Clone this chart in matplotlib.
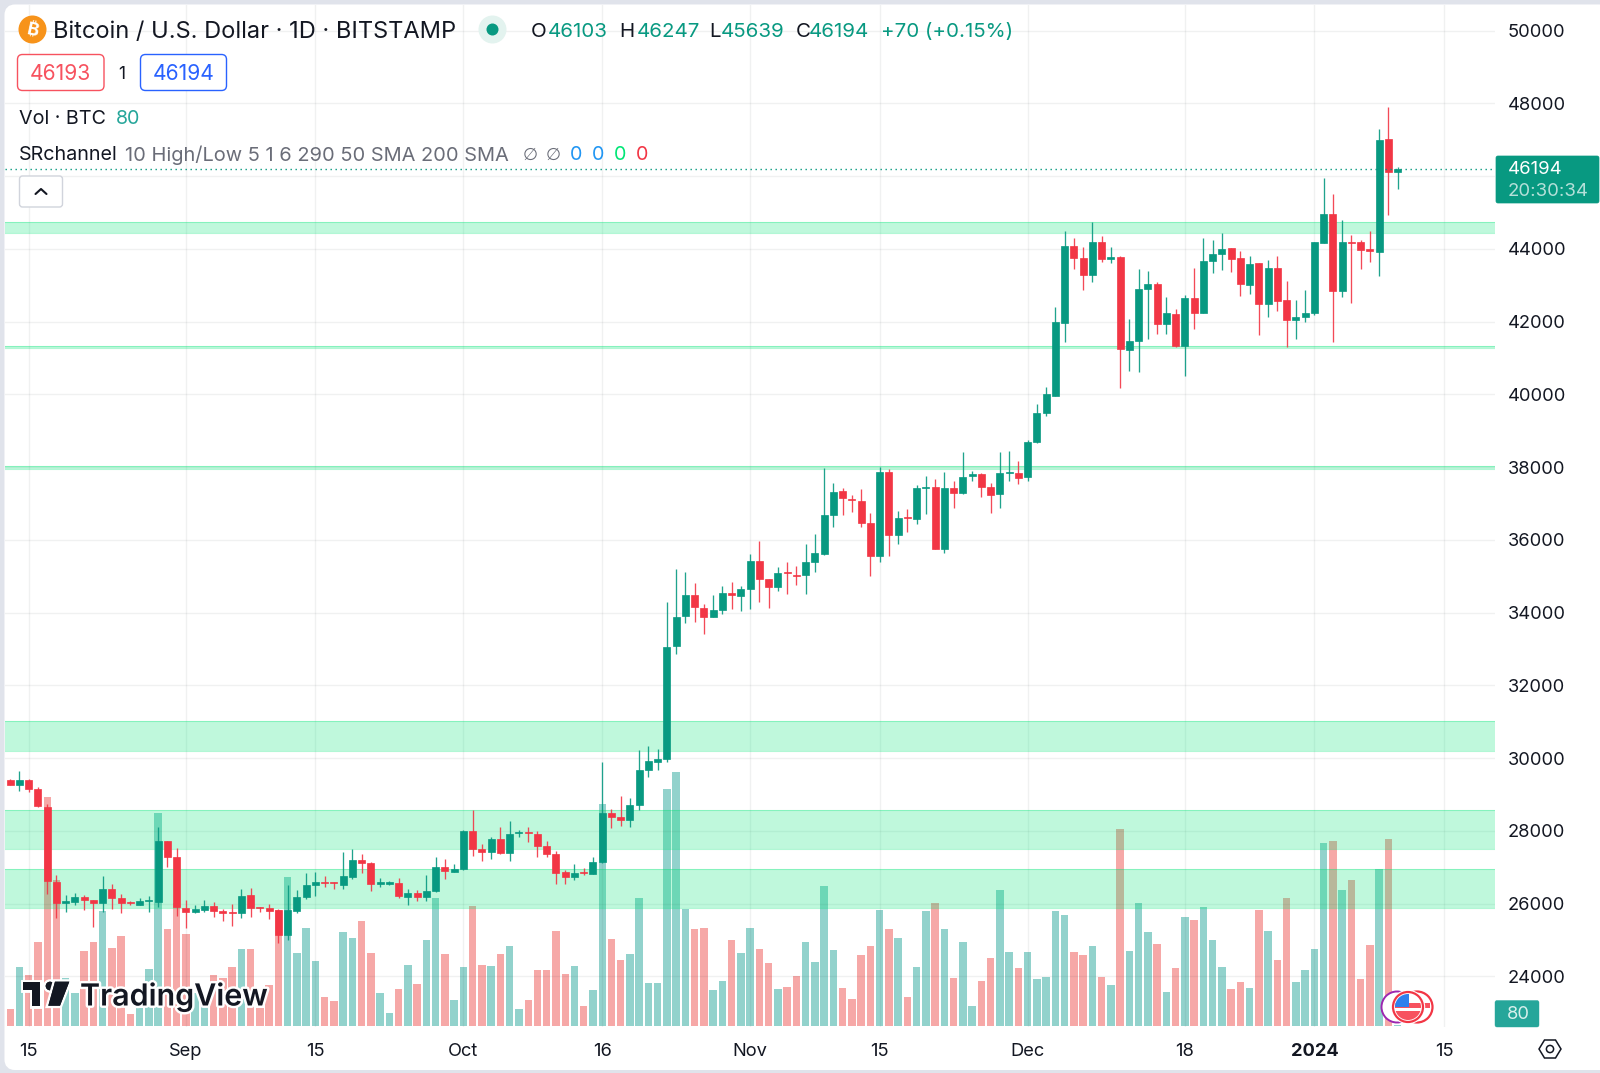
"""Bitcoin / U.S. Dollar daily candles with volume and SR channel zones."""
import matplotlib
matplotlib.use('Agg')
import matplotlib.patheffects as pe
import matplotlib.pyplot as plt
import numpy as np
import pandas as pd
from matplotlib.patches import Circle, FancyBboxPatch, Polygon, Rectangle

START_DATE = '2023-08-13'

OPEN = [29389, 29261, 29389, 29151, 28656, 26595, 26027, 26054, 26182, 26109,
        26027, 26412, 26155, 26045, 25972, 26073, 26054, 27713, 27282, 25889,
        25770, 25825, 25944, 25798, 25770, 25734, 26238, 25908, 25871, 25816,
        25138, 25807, 26192, 26522, 26604, 26586, 26512, 26741, 27199, 27108,
        26549, 26549, 26558, 26192, 26283, 26173, 26338, 27007, 26879, 26943,
        27987, 27502, 27419, 27768, 27383, 27942, 27978, 27923, 27584, 27374,
        26860, 26723, 26870, 26815, 27135, 28491, 28391, 28299, 28702, 29664,
        29893, 29967, 33091, 33916, 34484, 34126, 33888, 34071, 34530, 34465,
        34649, 35427, 34933, 34713, 35116, 35043, 35043, 35400, 35601, 36692,
        37333, 37113, 37077, 36453, 35555, 37864, 36142, 36637, 36573, 37415,
        37461, 35739, 37415, 37278, 37754, 37800, 37461, 37250, 37846, 37846,
        37718, 38695, 39478, 39964, 41970, 44078, 43757, 43290, 44197, 43711,
        43785, 41228, 41476, 42887, 43033, 41925, 42218, 41329, 42649, 42245,
        43674, 43858, 44014, 43739, 42997, 43601, 42484, 43464, 42594, 42044,
        42117, 42227, 44169, 44967, 42850, 44197, 44178, 43986, 43922, 47009,
        46103]
HIGH = [29435, 29646, 29435, 29197, 28730, 26787, 26238, 26283, 26238, 26109,
        26769, 26540, 26265, 26082, 26155, 26210, 28116, 27731, 27520, 26100,
        25963, 26100, 26045, 25844, 25990, 26393, 26421, 25917, 25990, 25862,
        26522, 26375, 26833, 26860, 26760, 26586, 27410, 27493, 27364, 27154,
        26705, 26622, 26714, 26412, 26375, 26796, 27291, 27227, 27080, 28024,
        28574, 27648, 27823, 28116, 28281, 28024, 28097, 27987, 27713, 27447,
        26925, 27090, 26970, 27291, 29884, 28592, 28959, 28895, 30223, 30342,
        30240, 34282, 35189, 35125, 34823, 34227, 34484, 34740, 34850, 34740,
        35601, 35959, 34933, 35262, 35391, 35281, 35876, 36151, 37984, 37553,
        37425, 37232, 37397, 36747, 37993, 37947, 36792, 36838, 37507, 37764,
        37663, 37855, 37626, 38423, 37892, 37828, 37571, 38423, 38442, 38167,
        38750, 39734, 40212, 42392, 44481, 44288, 44041, 44728, 44362, 44041,
        43803, 42062, 43446, 43400, 43079, 42667, 42346, 42731, 43464, 44288,
        44243, 44426, 44032, 43950, 43803, 43601, 43693, 43803, 43125, 42594,
        42868, 44178, 45938, 45507, 44792, 44380, 44243, 44499, 47294, 47907,
        46247]
LOW = [29261, 29087, 29078, 28665, 26256, 25596, 25779, 25963, 25825, 25349,
       25779, 25853, 25752, 25954, 25954, 25779, 25917, 27007, 25669, 25321,
       25733, 25770, 25642, 25523, 25385, 25596, 25642, 25779, 25578, 24927,
       25000, 25733, 26127, 26219, 26448, 26412, 26393, 26677, 26851, 26357,
       26467, 26522, 26146, 25963, 26082, 26082, 26311, 26677, 26870, 26934,
       27319, 27172, 27218, 27355, 27172, 27841, 27703, 27273, 27291, 26531,
       26531, 26650, 26787, 26806, 27108, 28088, 28143, 28116, 28583, 29490,
       29673, 29900, 32853, 33705, 33732, 33402, 33888, 33952, 34099, 34053,
       34099, 34300, 34135, 34603, 34502, 34759, 34520, 35125, 35583, 36353,
       36682, 36756, 36344, 35015, 35382, 35546, 35885, 36206, 36426, 36710,
       35739, 35647, 36884, 37260, 37626, 37186, 36747, 36884, 37617, 37525,
       37626, 38650, 39400, 39964, 41430, 43436, 42868, 43097, 43629, 43601,
       40184, 40642, 40605, 41521, 41659, 41650, 41292, 40514, 41796, 42227,
       43327, 43418, 43372, 42704, 42759, 41631, 42136, 42300, 41292, 41521,
       41979, 42190, 44169, 41448, 42667, 42502, 43446, 43647, 43262, 44921,
       45639]
CLOSE = [29261, 29389, 29151, 28684, 26622, 26027, 26082, 26182, 26109, 26018,
         26412, 26155, 26018, 26018, 26073, 26100, 27713, 27291, 25899, 25770,
         25844, 25944, 25789, 25752, 25743, 26219, 25880, 25880, 25807, 25138,
         25816, 26192, 26512, 26586, 26577, 26568, 26751, 27199, 27117, 26540,
         26586, 26586, 26210, 26283, 26173, 26348, 27007, 26906, 26943, 27987,
         27502, 27410, 27777, 27383, 27923, 27978, 27932, 27584, 27364, 26851,
         26732, 26833, 26842, 27154, 28491, 28381, 28299, 28702, 29664, 29921,
         29985, 33064, 33888, 34484, 34145, 33888, 34081, 34530, 34484, 34640,
         35427, 34914, 34713, 35079, 35079, 35015, 35400, 35629, 36673, 37306,
         37159, 37086, 36472, 35555, 37864, 36142, 36600, 36609, 37425, 37461,
         35739, 37415, 37296, 37736, 37809, 37443, 37232, 37828, 37864, 37690,
         38698, 39478, 40011, 41980, 44078, 43757, 43290, 44178, 43721, 43785,
         41237, 41467, 42887, 43033, 41925, 42245, 41329, 42649, 42245, 43665,
         43858, 43986, 43721, 43033, 43583, 42484, 43464, 42575, 42044, 42136,
         42245, 44178, 44967, 42850, 44178, 44169, 43968, 43950, 46991, 46121,
         46194]
# bar heights
VOLUME = [50, 177, 152, 250, 685, 437, 143, 99, 224, 250,
          344, 233, 268, 36, 52, 169, 637, 289, 367, 275,
          97, 77, 152, 142, 177, 229, 229, 52, 122, 347,
          447, 217, 292, 194, 85, 74, 280, 263, 314, 217,
          97, 38, 109, 182, 124, 257, 384, 215, 76, 175,
          359, 182, 178, 215, 240, 50, 78, 166, 166, 284,
          155, 180, 59, 106, 665, 259, 196, 215, 384, 129,
          129, 711, 762, 349, 289, 292, 108, 134, 257, 217,
          292, 229, 187, 111, 116, 150, 251, 190, 420, 227,
          113, 79, 211, 239, 348, 290, 264, 86, 176, 343,
          367, 290, 144, 252, 60, 134, 204, 408, 222, 174,
          222, 141, 146, 343, 332, 222, 211, 239, 146, 123,
          591, 225, 368, 280, 246, 100, 174, 325, 318, 355,
          258, 176, 109, 132, 113, 346, 283, 197, 383, 132,
          167, 229, 547, 555, 406, 438, 139, 243, 471, 561,
          3]

ZONE_LOW = [44426, 41260, 37947, 30205, 27502, 25890]
ZONE_HIGH = [44728, 41340, 38020, 31020, 28565, 26961]

PRICE_TICKS = [24000, 26000, 28000, 30000, 32000, 34000, 36000, 38000, 40000,
               42000, 44000, 46000, 48000, 50000]
PRICE_LABELS = ['24000', '26000', '28000', '30000', '32000', '34000', '36000',
                '38000', '40000', '42000', '44000', '', '48000', '50000']
TIME_TICKS = ['2023-08-15', '2023-09-01', '2023-09-15', '2023-10-01', '2023-10-16',
              '2023-11-01', '2023-11-15', '2023-12-01', '2023-12-18', '2024-01-01',
              '2024-01-15']
TIME_LABELS = ['15', 'Sep', '15', 'Oct', '16', 'Nov', '15', 'Dec', '18', '2024', '15']

UP = '#089981'
DOWN = '#f23645'
UP_VOL = '#26a69a'
DOWN_VOL = '#ef5350'
INK = '#131722'
GREY = '#6a6d78'
ZONE_FILL = (0, 0.902, 0.463, 0.25)
ZONE_EDGE = (0, 0.902, 0.463, 0.3)
W, H = 1600, 1073

plt.rcParams['font.family'] = ['Inter', 'DejaVu Sans']


def pane_limits():
    # pane runs from x 5 to 1495 and y 5 to 1027 in picture pixels
    xlim = ((5 - 10.2) / 9.25, (1495 - 10.2) / 9.25)
    ylim = (48000 - (1027 - 103.3) * 27.488, 48000 + (103.3 - 5) * 27.488)
    return xlim, ylim


def draw_background(fig):
    bg = fig.add_axes([0, 0, 1, 1], zorder=0)
    bg.set_xlim(0, W)
    bg.set_ylim(H, 0)
    bg.axis('off')
    bg.add_patch(Rectangle((0, 0), W, H, color='#e0e3eb', lw=0))
    bg.add_patch(FancyBboxPatch((9, 9), W, 1056.5, boxstyle='round,pad=0,rounding_size=6',
                                mutation_aspect=1, fc='white', ec='white', lw=6.5))


def draw_volume(fig, x, up):
    xlim, _ = pane_limits()
    ax = fig.add_axes([5 / W, 1 - 1027 / H, 1490 / W, 1022 / H], zorder=1)
    colors = [UP_VOL if u else DOWN_VOL for u in up]
    ax.bar(x, VOLUME, width=0.8, color=colors, alpha=0.5, lw=0)
    ax.set_xlim(*xlim)
    ax.set_ylim(-1.3 * 3, (1025.7 - 5) * 3)
    ax.axis('off')


def draw_price(fig, x, up):
    xlim, ylim = pane_limits()
    ax = fig.add_axes([5 / W, 1 - 1027 / H, 1490 / W, 1022 / H], zorder=2)
    ax.patch.set_alpha(0)

    for lo, hi in zip(ZONE_LOW, ZONE_HIGH):
        ax.axhspan(lo, hi, fc=ZONE_FILL, lw=0, zorder=2)
        ax.axhline(lo, color=ZONE_EDGE, lw=0.8, zorder=2)
        ax.axhline(hi, color=ZONE_EDGE, lw=0.8, zorder=2)

    colors = [UP if u else DOWN for u in up]
    ax.vlines(x, LOW, HIGH, colors=colors, lw=0.95, alpha=0.9, zorder=3)
    bottoms = np.minimum(OPEN, CLOSE)
    heights = np.abs(np.array(OPEN) - np.array(CLOSE))
    ax.bar(x, heights, bottom=bottoms, width=0.76, color=colors, lw=0.5,
           edgecolor=colors, zorder=4)

    ax.axhline(CLOSE[-1], color=UP, lw=1.0, ls=(0, (1, 2.6)), zorder=5)

    start = pd.Timestamp(START_DATE)
    ticks = [(pd.Timestamp(d) - start).days for d in TIME_TICKS]
    ax.set_xticks(ticks)
    ax.set_xticklabels(TIME_LABELS, fontsize=13.2, color=INK)
    ax.get_xticklabels()[9].set_fontweight('bold')
    ax.set_yticks(PRICE_TICKS)
    ax.set_yticklabels(PRICE_LABELS, fontsize=13.2, color=INK)
    ax.yaxis.tick_right()
    ax.tick_params(axis='both', length=0)
    ax.tick_params(axis='x', pad=11.5)
    ax.tick_params(axis='y', pad=9)
    ax.grid(True, color='#2a2e39', alpha=0.065, lw=1.0)
    ax.set_axisbelow(True)
    for s in ax.spines.values():
        s.set_visible(False)
    ax.set_xlim(*xlim)
    ax.set_ylim(*ylim)


def draw_logo(ov):
    halo = [pe.withStroke(linewidth=3.5, foreground='white')]
    parts = [
        Polygon([(22.7, 981.7), (40, 981.7), (40, 1005.7), (31.7, 1005.7), (31.7, 990), (22.7, 990)],
                fc=INK, lw=0),
        Circle((50, 986), 4.3, fc=INK, lw=0),
        Polygon([(55, 981.7), (69.3, 981.7), (60, 1005.7), (48.3, 1005.7)], fc=INK, lw=0),
    ]
    for p in parts:
        p.set_path_effects(halo + [pe.Normal()])
        ov.add_patch(p)
    ov.text(80, 997, 'TradingView', fontsize=21.9, fontweight='semibold', color=INK,
            va='center', ha='left', path_effects=halo)


def draw_flags(ov):
    ov.add_patch(Circle((1397, 1007), 15.5, fc='white', ec='#9c27b0', lw=1.4, zorder=3))
    ov.add_patch(Circle((1417, 1007), 15.5, fc='white', ec='#f23645', lw=1.6, zorder=4))
    ov.add_patch(Rectangle((1417, 1003), 13, 5, fc='#f7525f', lw=0, zorder=4))
    ov.add_patch(Circle((1408, 1007), 16.5, fc='white', ec='white', lw=1, zorder=5))
    ring = Circle((1408, 1007), 15, fc='white', ec='#f23645', lw=1.6, zorder=6)
    ov.add_patch(ring)
    clip = Circle((1408, 1007), 13, transform=ov.transData)
    for y0, h0, c in [(994, 7, '#ffffff'), (1003, 5, '#f7525f'), (1011, 9, '#f7525f')]:
        r = Rectangle((1395, y0), 26, h0, fc=c, lw=0, zorder=7)
        ov.add_patch(r)
        r.set_clip_path(clip)
    canton = Rectangle((1395, 994), 14, 13, fc='#2f80ed', lw=0, zorder=8)
    ov.add_patch(canton)
    canton.set_clip_path(clip)


def draw_overlay(fig):
    ov = fig.add_axes([0, 0, 1, 1], zorder=10)
    ov.set_xlim(0, W)
    ov.set_ylim(H, 0)
    ov.axis('off')
    ov.patch.set_alpha(0)

    # symbol line
    ov.add_patch(Circle((32.5, 29.5), 14, fc='#f7931a', lw=0))
    ov.text(32.5, 30, '\u20bf', color='white', fontsize=13, fontweight='bold', rotation=-12,
            ha='center', va='center',
            family=['Inter', 'Noto Sans', 'Roboto', 'Lato', 'Open Sans', 'Liberation Sans',
                    'DejaVu Sans'])
    ov.text(53, 32, 'Bitcoin / U.S. Dollar \u00b7 1D \u00b7 BITSTAMP', fontsize=17.0, color=INK,
            va='center')
    ov.add_patch(Circle((492.5, 29.5), 14, fc='#e3f3ef', lw=0))
    ov.add_patch(Circle((492.5, 29.5), 6, fc=UP, lw=0))
    for xp, s, c in [(531, 'O', INK), (548, '46103', UP), (619.5, 'H', INK), (637, '46247', UP),
                     (709, 'L', INK), (721, '45639', UP), (796, 'C', INK), (809, '46194', UP),
                     (881, '+70 (+0.15%)', UP)]:
        ov.text(xp, 32, s, fontsize=14.8, color=c, va='center')

    # bid / ask boxes
    for x0, x1, c, s in [(17.5, 104, '#f7525f', '46193'), (140.5, 226.5, '#2962ff', '46194')]:
        ov.add_patch(FancyBboxPatch((x0, 54.5), x1 - x0, 36, boxstyle='round,pad=0,rounding_size=5',
                                    fc='white', ec=c, lw=1.0))
        ov.text((x0 + x1) / 2, 74.5, s, color=c, fontsize=15.2, ha='center', va='center')
    ov.text(122, 74.5, '1', color=INK, fontsize=12.5, ha='center', va='center')

    # indicator lines
    ov.text(19, 119, 'Vol \u00b7 BTC', color=INK, fontsize=14.2, va='center')
    ov.text(116, 119, '80', color=UP_VOL, fontsize=14.2, va='center')
    ov.text(19, 155.5, 'SRchannel', color=INK, fontsize=14.2, va='center')
    ov.text(125, 155.5, '10 High/Low 5 1 6 290 50 SMA 200 SMA', color=GREY, fontsize=14.4, va='center')
    for xp in (530, 553):
        ov.text(xp, 155, '\u2205', color=GREY, fontsize=12.5, ha='center', va='center',
                family='DejaVu Sans')
    for xp, c in [(576, '#2196f3'), (598, '#2196f3'), (620, '#00e676'), (642, '#f23645')]:
        ov.text(xp, 155.5, '0', color=c, fontsize=14.2, ha='center', va='center')

    # collapse button
    ov.add_patch(FancyBboxPatch((19.5, 176), 43, 31, boxstyle='round,pad=0,rounding_size=3',
                                fc='white', ec='#d1d4dc', lw=1.0))
    ov.plot([35.5, 41, 46.5], [194, 189, 194], color=INK, lw=1.5, solid_capstyle='round')

    draw_logo(ov)
    draw_flags(ov)

    # price scale tags
    ov.add_patch(FancyBboxPatch((1496, 156), 103, 47, boxstyle='round,pad=0,rounding_size=2',
                                fc=UP, ec=UP, lw=0.5))
    ov.text(1508, 170, '46194', color='white', fontsize=13.4, va='center')
    ov.text(1508, 191, '20:30:34', color='#b5e0d9', fontsize=13.4, va='center')
    ov.add_patch(FancyBboxPatch((1495, 1000.5), 44, 26.5, boxstyle='round,pad=0,rounding_size=2',
                                fc=UP_VOL, ec=UP_VOL, lw=0.3))
    ov.text(1518, 1014.5, '80', color='#d8f0ec', fontsize=13.2, ha='center', va='center')

    # settings hexagon
    ov.add_patch(Polygon([(1539, 1049), (1544.5, 1040), (1555.5, 1040), (1561, 1049),
                          (1555.5, 1058), (1544.5, 1058)], fc='white', ec=INK, lw=1.1))
    ov.add_patch(Circle((1550, 1049), 3.6, fc='white', ec=INK, lw=1.1))


def main():
    x = np.arange(len(OPEN))
    up = np.array(CLOSE) >= np.array(OPEN)
    fig = plt.figure(figsize=(W / 100, H / 100), dpi=100)
    draw_background(fig)
    draw_volume(fig, x, up)
    draw_price(fig, x, up)
    draw_overlay(fig)
    fig.savefig('out.png', dpi=100)


if __name__ == '__main__':
    main()
